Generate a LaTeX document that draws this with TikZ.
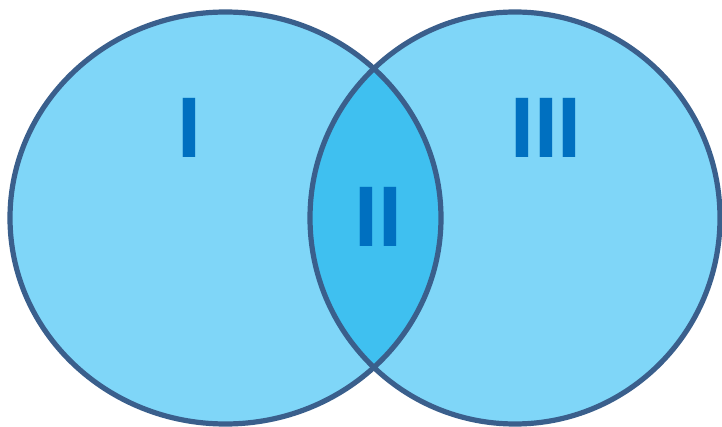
\documentclass[tikz,border=0pt]{standalone}
\usepackage{fontspec}
\newfontfamily\labelfont{Liberation Sans}
\usepackage{tikz}
\usetikzlibrary{positioning}
\definecolor{setfill}{HTML}{7FD6F8}
\definecolor{lensfill}{HTML}{3FC0F0}
\definecolor{rim}{HTML}{3A5F8C}
\definecolor{roman}{HTML}{0070C0}

\begin{document}
\begin{tikzpicture}[
  x=1pt, y=-1pt,
  rim/.style={draw=rim, line width=5.2pt},
  region/.style={font=\labelfont\bfseries\fontsize{86}{86}\selectfont, text=roman, inner sep=0pt}
]
\useasboundingbox (0,0) rectangle (722,427);
% the two sets
\fill[setfill] (225.5,218) ellipse [x radius=215.5, y radius=206];
\fill[setfill] (515,218) ellipse [x radius=205, y radius=206];
% overlap
\begin{scope}
  \clip (225.5,218) ellipse [x radius=215.5, y radius=206];
  \fill[lensfill] (515,218) ellipse [x radius=205, y radius=206];
\end{scope}
\draw[rim] (225.5,218) ellipse [x radius=215.5, y radius=206];
\draw[rim] (515,218) ellipse [x radius=205, y radius=206];
% region labels
\node[region] (one)   at (189.5,128) {I};
\node[region] (two)   at (378.5,217) {II};
\node[region] (three) at (546,128)   {III};
\end{tikzpicture}
\end{document}
